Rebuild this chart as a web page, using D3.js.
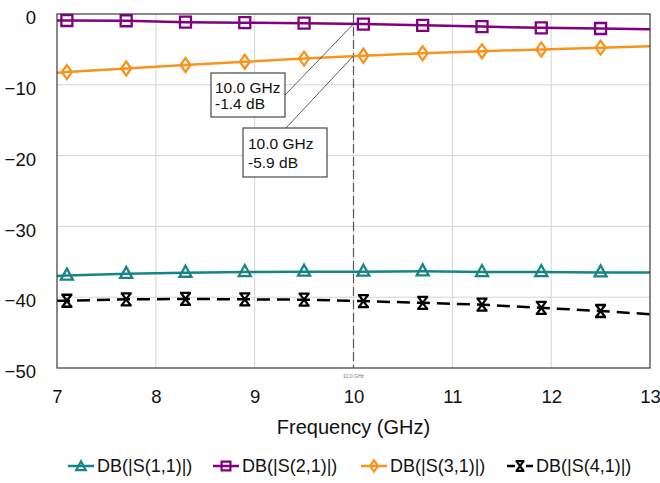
<!DOCTYPE html>
<html>
<head>
<meta charset="utf-8">
<script src="https://cdn.jsdelivr.net/npm/d3@7"></script>
<style>
  html, body { margin: 0; padding: 0; background: #fff; }
  svg { display: block; font-family: "Liberation Sans", Arial, sans-serif; }
</style>
</head>
<body>
<svg id="chart" width="660" height="483"></svg>
<script>
// ---------------- data ----------------
const freqs      = [7.0, 7.1, 7.7, 8.3, 8.9, 9.5, 10.1, 10.7, 11.3, 11.9, 12.5, 13.0];
const markerFreqs = [7.1, 7.7, 8.3, 8.9, 9.5, 10.1, 10.7, 11.3, 11.9, 12.5];
const s11 = [-37.0, -36.95, -36.7, -36.55, -36.45, -36.4, -36.4, -36.35, -36.45, -36.45, -36.5, -36.5];
const s21 = [-0.92, -0.92, -0.95, -1.15, -1.22, -1.3, -1.42, -1.6, -1.78, -1.95, -2.05, -2.15];
const s31 = [-8.3, -8.2, -7.7, -7.2, -6.75, -6.3, -5.9, -5.55, -5.25, -5.0, -4.75, -4.55];
const s41 = [-40.5, -40.5, -40.3, -40.25, -40.3, -40.35, -40.55, -40.8, -41.05, -41.5, -41.95, -42.4];
const seriesNames = ["DB(|S(1,1)|)", "DB(|S(2,1)|)", "DB(|S(3,1)|)", "DB(|S(4,1)|)"];
const xTicks = [7, 8, 9, 10, 11, 12, 13];
const yTicks = [0, -10, -20, -30, -40, -50];
const markerFreq = 10.0;
const markerLabel = "10.0 GHz";
const annotations = [
  { freq: 10.0, value: -1.4, lines: ["10.0 GHz", "-1.4 dB"] },
  { freq: 10.0, value: -5.9, lines: ["10.0 GHz", "-5.9 dB"] }
];

// ---------------- layout ----------------
const svg = d3.select("#chart");
const L = 57, R = 650, T = 14, B = 368;
const x = d3.scaleLinear().domain([7, 13]).range([L, R]);
const y = d3.scaleLinear().domain([-50, 0]).range([B, T]);

const styles = [
  { color: "#178585", dash: null, marker: "tri" },
  { color: "#800080", dash: null, marker: "sq" },
  { color: "#f7941d", dash: null, marker: "dia" },
  { color: "#000000", dash: "13,7", marker: "hour" }
];
const allSeries = [s11, s21, s31, s41];

function markerPath(type, k) {
  k = k || 1;
  const p = d3.path();
  if (type === "tri") {
    p.moveTo(0, -7 * k); p.lineTo(6 * k, 4 * k); p.lineTo(-6 * k, 4 * k); p.closePath();
  } else if (type === "sq") {
    p.rect(-5.5 * k, -5.5 * k, 11 * k, 11 * k);
  } else if (type === "dia") {
    p.moveTo(0, -7 * k); p.lineTo(5 * k, 0); p.lineTo(0, 7 * k); p.lineTo(-5 * k, 0); p.closePath();
  } else if (type === "hour") {
    p.moveTo(-5.5 * k, -6 * k); p.lineTo(5.5 * k, -6 * k);
    p.moveTo(-5.5 * k, 6 * k); p.lineTo(5.5 * k, 6 * k);
    p.moveTo(-4.5 * k, -6 * k); p.lineTo(4.5 * k, 6 * k);
    p.moveTo(4.5 * k, -6 * k); p.lineTo(-4.5 * k, 6 * k);
  }
  return p.toString();
}

// grid
const grid = svg.append("g");
grid.selectAll("line.vx").data(xTicks.slice(1, -1)).join("line")
  .attr("x1", d => x(d)).attr("x2", d => x(d)).attr("y1", T).attr("y2", B)
  .attr("stroke", "#d4d4d4").attr("stroke-width", 1);
grid.selectAll("line.hy").data(yTicks.slice(1, -1)).join("line")
  .attr("x1", L).attr("x2", R).attr("y1", d => y(d)).attr("y2", d => y(d))
  .attr("stroke", "#d4d4d4").attr("stroke-width", 1);

// x axis
const xAxis = svg.append("g").attr("transform", `translate(0,${B})`)
  .call(d3.axisBottom(x).tickValues(xTicks).tickSize(0).tickPadding(22).tickFormat(d3.format("d")));
xAxis.select(".domain").remove();
xAxis.selectAll("text").attr("font-size", 18.5).attr("fill", "#111").attr("font-family", "Liberation Sans, Arial, sans-serif");

// y axis
const yAxis = svg.append("g").attr("transform", `translate(${L},0)`)
  .call(d3.axisLeft(y).tickValues(yTicks).tickSize(0).tickPadding(21).tickFormat(d3.format("d")));
yAxis.select(".domain").remove();
yAxis.selectAll("text").attr("font-size", 18.5).attr("fill", "#111").attr("dy", "0.52em")
  .attr("font-family", "Liberation Sans, Arial, sans-serif");

// marker vertical line
svg.append("line").attr("x1", x(markerFreq)).attr("x2", x(markerFreq)).attr("y1", T).attr("y2", B)
  .attr("stroke", "#555").attr("stroke-width", 1.2).attr("stroke-dasharray", "9,4");
svg.append("text").attr("x", x(markerFreq)).attr("y", B + 10).attr("text-anchor", "middle")
  .attr("font-size", 5).attr("fill", "#777").text(markerLabel);

// series
const line = d3.line().x((d, i) => x(freqs[i])).y(d => y(d));
allSeries.forEach((vals, si) => {
  const st = styles[si];
  const g = svg.append("g");
  g.append("path").attr("d", line(vals)).attr("fill", "none")
    .attr("stroke", st.color).attr("stroke-width", 2.5)
    .attr("stroke-dasharray", st.dash);
  const pts = freqs.map((f, i) => ({ f, v: vals[i] })).filter(p => markerFreqs.includes(p.f));
  g.selectAll("path.m").data(pts).join("path").attr("class", "m")
    .attr("transform", p => `translate(${x(p.f)},${y(p.v)})`)
    .attr("d", markerPath(st.marker))
    .attr("fill", "none")
    .attr("stroke", st.color).attr("stroke-width", 2.3);
});

// plot border
svg.append("rect").attr("x", L).attr("y", T).attr("width", R - L).attr("height", B - T)
  .attr("fill", "none").attr("stroke", "#3a3a3a").attr("stroke-width", 1.2);

// annotations
const boxes = [
  { x: 211, y: 73, w: 74, h: 44, lx: 215, ly: [88, 104], ax: 285, ay: 95 },
  { x: 243, y: 128, w: 84, h: 49, lx: 248, ly: [144, 163], ax: 286, ay: 128 }
];
annotations.forEach((a, i) => {
  const b = boxes[i];
  svg.append("line").attr("x1", b.ax).attr("y1", b.ay).attr("x2", x(a.freq)).attr("y2", y(a.value))
    .attr("stroke", "#333").attr("stroke-width", 0.8);
  svg.append("rect").attr("x", b.x).attr("y", b.y).attr("width", b.w).attr("height", b.h)
    .attr("fill", "#fff").attr("stroke", "#222").attr("stroke-width", 1);
  a.lines.forEach((t, j) => {
    svg.append("text").attr("x", b.lx).attr("y", b.ly[j]).attr("dy", "0.35em")
      .attr("font-size", 15.5).attr("fill", "#111").text(t);
  });
});

// x-axis title
svg.append("text").attr("x", x(10)).attr("y", 427).attr("dy", "0.35em").attr("text-anchor", "middle")
  .attr("font-size", 20).attr("fill", "#111").text("Frequency (GHz)");

// legend
const legendX = [68, 213, 361, 507];
const legendY = 466;
seriesNames.forEach((name, i) => {
  const st = styles[i];
  const g = svg.append("g").attr("transform", `translate(${legendX[i]},${legendY})`);
  if (st.dash) {
    g.append("line").attr("x1", 0).attr("x2", 8).attr("y1", 0).attr("y2", 0).attr("stroke", st.color).attr("stroke-width", 2.5);
    g.append("line").attr("x1", 19).attr("x2", 26).attr("y1", 0).attr("y2", 0).attr("stroke", st.color).attr("stroke-width", 2.5);
  } else {
    g.append("line").attr("x1", 0).attr("x2", 26).attr("y1", 0).attr("y2", 0).attr("stroke", st.color).attr("stroke-width", 2.5);
  }
  g.append("path").attr("transform", `translate(13,${st.marker === "tri" ? 1 : 0})`)
    .attr("d", markerPath(st.marker, 0.8)).attr("fill", "none")
    .attr("stroke", st.color).attr("stroke-width", 2.2);
  g.append("text").attr("x", 29).attr("y", 0).attr("dy", "0.35em")
    .attr("font-size", 18).attr("fill", "#111").text(name);
});
</script>
</body>
</html>
